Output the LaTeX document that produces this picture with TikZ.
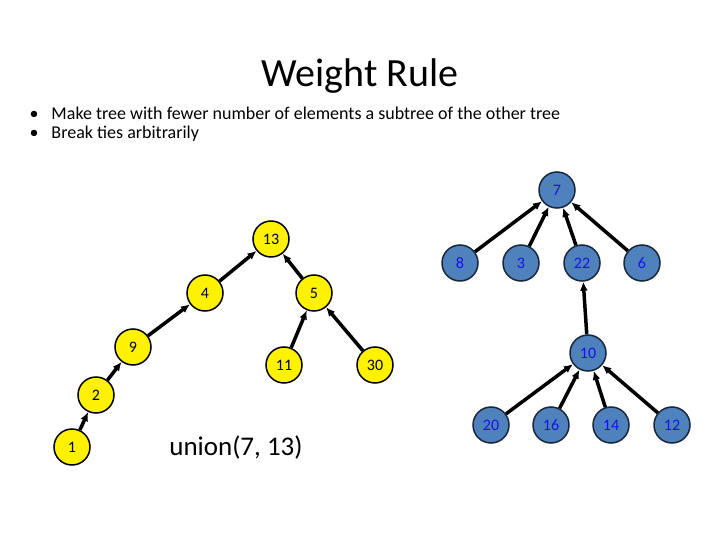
\documentclass[tikz,border=0pt]{standalone}
\usepackage{fontspec}
\setmainfont{Carlito}
\usetikzlibrary{arrows.meta}
\definecolor{nodeblue}{RGB}{79,129,189}
\definecolor{textblue}{RGB}{20,20,230}

\tikzset{
  yel/.style={circle,draw=black,line width=1.5pt,fill=yellow,minimum size=36pt,inner sep=0pt,font=\fontsize{16}{16}\selectfont,text=black!80!blue},
  blu/.style={circle,draw=black!70!nodeblue,line width=1.5pt,fill=nodeblue,minimum size=36pt,inner sep=0pt,font=\fontsize{16}{16}\selectfont,text=textblue},
  up/.style={-{Latex[length=9pt,width=8pt]},line width=3.5pt}
}

\begin{document}
\begin{tikzpicture}[x=1pt,y=-1pt]
\useasboundingbox (0,0) rectangle (720,540);
\node at (360,76) {\fontsize{40}{40}\selectfont Weight Rule};
\node[anchor=west,font=\fontsize{18}{20}\selectfont] at (26,113) {\textbullet\hspace{13pt}Make tree with fewer number of elements a subtree of the other tree};
\node[anchor=west,font=\fontsize{18}{20}\selectfont] at (26,134) {\textbullet\hspace{13pt}Break ties arbitrarily};
% yellow tree
\node[yel] (n13) at (271,239) {13};
\node[yel] (n4) at (205,293) {4};
\node[yel] (n5) at (314,293) {5};
\node[yel] (n9) at (133,347) {9};
\node[yel] (n11) at (284,365) {11};
\node[yel] (n30) at (375,365) {30};
\node[yel] (n2) at (96,395) {2};
\node[yel] (n1) at (72,447) {1};
\draw[up] (n4) -- (n13);
\draw[up] (n5) -- (n13);
\draw[up] (n9) -- (n4);
\draw[up] (n11) -- (n5);
\draw[up] (n30) -- (n5);
\draw[up] (n2) -- (n9);
\draw[up] (n1) -- (n2);
% blue tree
\node[blu] (n7) at (557,190) {7};
\node[blu] (n8) at (460,263) {8};
\node[blu] (n3) at (521,263) {3};
\node[blu] (n22) at (582,263) {22};
\node[blu] (n6) at (642,263) {6};
\node[blu] (n10) at (588,353) {10};
\node[blu] (n20) at (491,425) {20};
\node[blu] (n16) at (551,425) {16};
\node[blu] (n14) at (611,425) {14};
\node[blu] (n12) at (672,425) {12};
\foreach \c in {n8,n3,n22,n6}
  \draw[up] (\c) -- (n7);
\draw[up] (n10) -- (n22);
\foreach \c in {n20,n16,n14,n12}
  \draw[up] (\c) -- (n10);
\node at (236,447) {\fontsize{27}{27}\selectfont union(7, 13)};
\end{tikzpicture}
\end{document}
